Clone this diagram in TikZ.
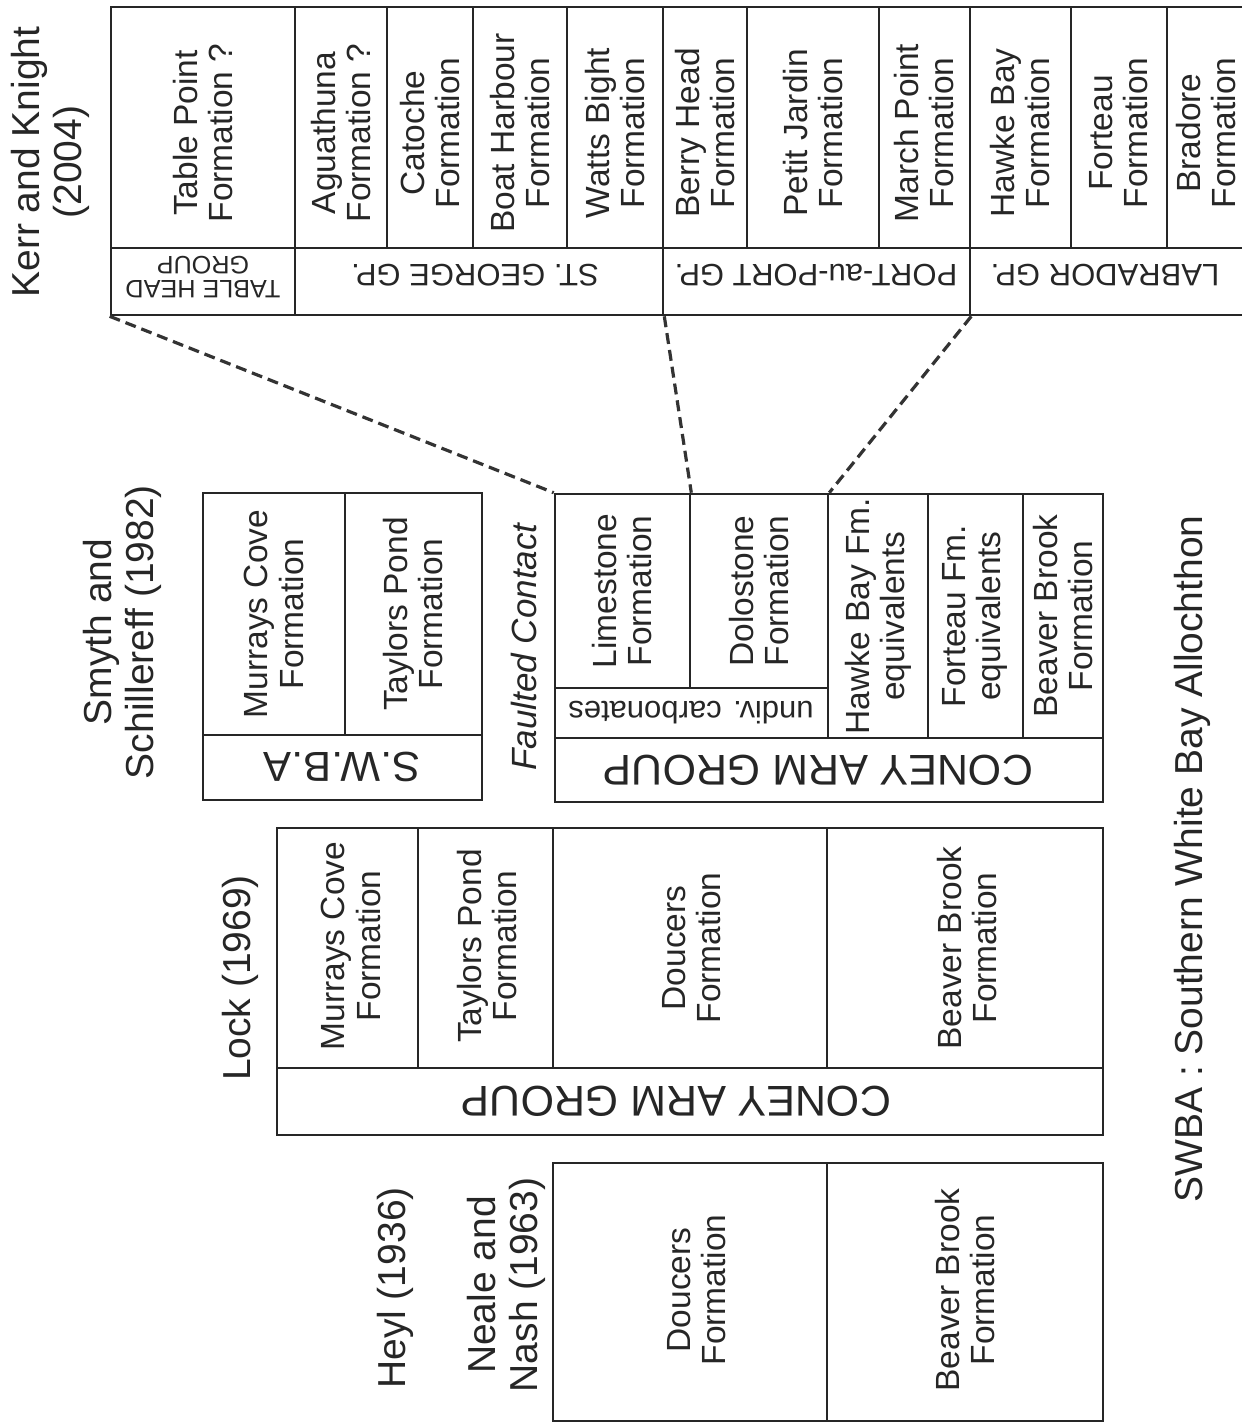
\documentclass[tikz,border=0pt]{standalone}
\usepackage{fontspec}
\setmainfont{Liberation Sans}
\usetikzlibrary{fit}
\begin{document}
\begin{tikzpicture}[x=0.5pt,y=-0.5pt,
  cellbox/.style={draw=black!85, line width=1.3pt, inner sep=0pt, rectangle},
  fm/.style={rotate=90, align=center, inner sep=0pt, text=black!85, font=\fontsize{16.75pt}{17.6pt}\selectfont},
  grp/.style={rotate=180, align=center, inner sep=0pt, text=black!85, font=\fontsize{15.5pt}{15.5pt}\selectfont},
  grpbig/.style={grp, font=\fontsize{21.5pt}{21.5pt}\selectfont},
  grpmid/.style={grp, font=\fontsize{21pt}{21pt}\selectfont},
  grpsmall/.style={grp, font=\fontsize{12.6pt}{11.8pt}\selectfont},
  ttl/.style={rotate=90, align=center, inner sep=0pt, text=black!85, font=\fontsize{19.5pt}{21pt}\selectfont},
  fc/.style={rotate=90, inner sep=0pt, text=black!85, font=\fontsize{17.5pt}{19pt}\selectfont\itshape},
  conn/.style={draw=black!80, line width=1.6pt, dash pattern=on 5.5pt off 3pt}
]
\useasboundingbox (0,0) rectangle (1242,1426);
\newcommand\mycell[5]{\node[cellbox, fit={(#2,#3) (#4,#5)}] (#1) {};}

% ---------- Kerr and Knight (2004) ----------
\mycell{tp}{111}{7}{295}{248}
\mycell{ag}{295}{7}{387}{248}
\mycell{ca}{387}{7}{473}{248}
\mycell{bh}{473}{7}{567}{248}
\mycell{wb}{567}{7}{663}{248}
\mycell{be}{663}{7}{747}{248}
\mycell{pj}{747}{7}{879}{248}
\mycell{mp}{879}{7}{970}{248}
\mycell{hb}{970}{7}{1071}{248}
\mycell{fo}{1071}{7}{1167}{248}
\mycell{br}{1167}{7}{1262}{248}
\mycell{thg}{111}{248}{295}{315}
\mycell{sgg}{295}{248}{663}{315}
\mycell{ppg}{663}{248}{970}{315}
\mycell{lbg}{970}{248}{1262}{315}

\node[fm] (tpt) at (203,133) {Table Point\\Formation ?};
\node[fm] (agt) at (341,133) {Aguathuna\\Formation ?};
\node[fm] (cat) at (430,133) {Catoche\\Formation};
\node[fm] (bht) at (520,133) {Boat Harbour\\Formation};
\node[fm] (wbt) at (615,133) {Watts Bight\\Formation};
\node[fm] (bet) at (705,133) {Berry Head\\Formation};
\node[fm] (pjt) at (813,133) {Petit Jardin\\Formation};
\node[fm] (mpt) at (924,133) {March Point\\Formation};
\node[fm] (hbt) at (1020,133) {Hawke Bay\\Formation};
\node[fm] (fot) at (1119,133) {Forteau\\Formation};
\node[fm] (brt) at (1206,133) {Bradore\\Formation};

\node[grpsmall] (thgt) at (203,277) {TABLE HEAD\\GROUP};
\node[grp] (sggt) at (475,275) {ST. GEORGE GP.};
\node[grp] (ppgt) at (816,275) {PORT-au-PORT GP.};
\node[grp] (lbgt) at (1105,275) {LABRADOR GP.};

\node[ttl] (kk) at (50,162) {Kerr and Knight\\(2004)};

% ---------- Smyth and Schillereff (1982) ----------
\mycell{mc1}{203}{493}{345}{735}
\mycell{tp1}{345}{493}{482}{735}
\mycell{swb}{203}{735}{482}{800}
\node[fm] (mc1t) at (274,614) {Murrays Cove\\Formation};
\node[fm] (tp1t) at (413,614) {Taylors Pond\\Formation};
\node[grpmid] (swbt) at (342,767) {S.W.B.A};

\mycell{ls}{555}{494}{690}{688}
\mycell{ds}{690}{494}{828}{688}
\mycell{uc}{555}{688}{828}{738}
\mycell{hbe}{828}{494}{928}{738}
\mycell{fe}{928}{494}{1023}{738}
\mycell{bb1}{1023}{494}{1103}{738}
\mycell{cag1}{555}{738}{1103}{802}
\node[fm] (lst) at (622,591) {Limestone\\Formation};
\node[fm] (dst) at (759,591) {Dolostone\\Formation};
\node[grp] (uct) at (691,713) {undiv. carbonates};
\node[fm] (hbet) at (878,616) {Hawke Bay Fm.\\equivalents};
\node[fm] (fet) at (975,616) {Forteau Fm.\\equivalents};
\node[fm] (bb1t) at (1063,616) {Beaver Brook\\Formation};
\node[grpbig] (cag1t) at (818,770) {CONEY ARM GROUP};

\node[ttl] (ss) at (122,632) {Smyth and\\Schillereff (1982)};
\node[fc] (fct) at (524,647) {Faulted Contact};

% ---------- Lock (1969) ----------
\mycell{mc2}{277}{828}{418}{1068}
\mycell{tp2}{418}{828}{553}{1068}
\mycell{dc2}{553}{828}{827}{1068}
\mycell{bb2}{827}{828}{1103}{1068}
\mycell{cag2}{277}{1068}{1103}{1135}
\node[fm] (mc2t) at (351,946) {Murrays Cove\\Formation};
\node[fm] (tp2t) at (487,946) {Taylors Pond\\Formation};
\node[fm] (dc2t) at (692,948) {Doucers\\Formation};
\node[fm] (bb2t) at (967,948) {Beaver Brook\\Formation};
\node[grpbig] (cag2t) at (676,1101) {CONEY ARM GROUP};
\node[ttl] (lk) at (240,978) {Lock (1969)};

% ---------- Heyl (1936), Neale and Nash (1963) ----------
\mycell{dc3}{553}{1163}{827}{1421}
\mycell{bb3}{827}{1163}{1103}{1421}
\node[fm] (dc3t) at (697,1290) {Doucers\\Formation};
\node[fm] (bb3t) at (965,1290) {Beaver Brook\\Formation};
\node[ttl] (hy) at (395,1288) {Heyl (1936)};
\node[ttl] (nn) at (506,1285) {Neale and\\Nash (1963)};

\node[ttl] (sw) at (1192,859) {SWBA : Southern White Bay Allochthon};

% ---------- correlation lines ----------
\draw[conn] (thg.south west) -- (ls.north west);
\draw[conn] (sgg.south east) -- (ls.north east);
\draw[conn] (ppg.south east) -- (ds.north east);
\end{tikzpicture}
\end{document}
